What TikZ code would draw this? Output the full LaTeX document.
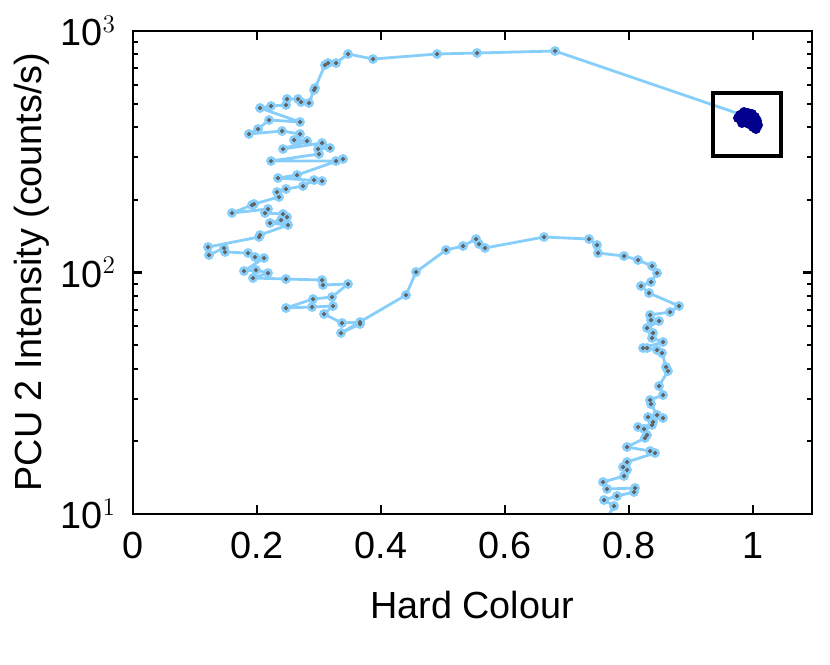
\documentclass[tikz,border=0pt]{standalone}
\usepackage{fontspec}
\setmainfont{Liberation Sans}
\definecolor{trackblue}{RGB}{135,206,250}
\definecolor{dotgrey}{RGB}{100,100,100}
\definecolor{navy}{RGB}{0,0,140}
\tikzset{
  trk/.style={trackblue, line width=1.6pt, line join=round},
  tick/.style={line width=1.2pt},
  lbl/.style={font=\fontsize{21.5}{24}\selectfont}
}
\begin{document}
\begin{tikzpicture}[x=0.02cm, y=-0.02cm]
  \useasboundingbox (0,0) rectangle (830,664);
  % track through the colour-intensity plane
  \def\track{(757,120) (555,51) (477,53) (437,54) (373,59) (348,54) (336,63) (328,63) (325,65)
    (315,88) (314,90) (309,103) (301,102) (298,99) (287,99) (286,105) (271,106) (260,108)
    (300,122) (269,120) (258,129) (249,134) (282,131) (300,134) (294,140) (307,141) (283,149)
    (322,143) (330,148) (318,149) (319,154) (271,161) (336,161) (343,159) (297,175) (278,178)
    (322,181) (314,180) (303,186) (286,189) (277,192) (279,197) (254,204) (252,205) (232,213)
    (268,209) (265,213) (283,214) (287,217) (281,220) (270,223) (288,225) (260,235) (259,237)
    (208,247) (209,255) (224,248) (225,252) (248,253) (255,257) (264,258) (244,271) (256,270)
    (268,273) (253,278) (286,279) (322,280) (323,285) (348,284) (332,297) (313,299) (286,308)
    (312,307) (333,306) (324,314) (342,323) (360,322) (360,324) (341,333) (406,295) (416,272)
    (446,250) (463,246) (476,239) (479,244) (485,248) (544,237) (589,239) (597,245) (598,253)
    (624,256) (638,260) (652,266) (657,273) (651,282) (641,286) (649,293) (679,306) (670,312)
    (650,315) (651,320) (659,321) (647,328) (653,333) (652,338) (663,342) (643,348) (647,348)
    (657,350) (662,353) (666,367) (668,371) (659,386) (663,395) (650,400) (651,404) (657,415)
    (663,418) (648,417) (653,422) (652,425) (638,427) (644,429) (647,435) (645,438) (627,447)
    (650,451) (655,453) (627,462) (623,467) (627,470) (624,476) (603,482) (607,489) (635,488)
    (634,492) (617,496) (604,500) (614,506)}
  \begin{scope}
    \clip (133,31) rectangle (812,514);
    \draw[trk] plot coordinates {\track} -- (607,518);
  \end{scope}
  \path[trackblue] plot[only marks, mark=*, mark size=2.6pt] coordinates {\track};
  \path[dotgrey] plot[only marks, mark=*, mark size=1pt] coordinates {\track};
  % dense cluster in the box
  \foreach \cx/\cy in {740/115, 744/112, 748/113, 752/114, 755/117, 757/121, 758/125, 756/129,
    753/127, 749/124, 745/122, 741/120, 738/118, 744/117, 750/119, 754/123, 747/114, 742/123}
    {\fill[navy] (\cx,\cy) circle (5);}
  \draw[line width=2.2pt] (713,93) rectangle (781,156);
  % frame and ticks
  \draw[tick] (133,31) rectangle (812,514);
  \foreach \v/\t in {0/0, 0.2/0.2, 0.4/0.4, 0.6/0.6, 0.8/0.8, 1/1} {
    \draw[tick] ({133+620*\v},514) -- ++(0,-9) ({133+620*\v},31) -- ++(0,9);
    \node[lbl, anchor=north] (xt\t) at ({133+620*\v},526) {\t};
  }
  \foreach \e/\yy in {3/31, 2/272.5, 1/514} {
    \draw[tick] (133,\yy) -- ++(9,0) (812,\yy) -- ++(-9,0);
    \node[lbl, anchor=east] (yt\e) at (122,\yy) {10$^{\e}$};
  }
  \foreach \d in {0,1} \foreach \m in {2,...,9} {
    \pgfmathsetmacro{\yy}{514-241.5*(\d+log10(\m))}
    \draw[tick] (133,\yy) -- ++(5,0) (812,\yy) -- ++(-5,0);
  }
  \node[lbl] (xlab) at (472,605) {Hard Colour};
  \node[lbl, rotate=90] (ylab) at (32,272) {PCU 2 Intensity (counts/s)};
\end{tikzpicture}
\end{document}
